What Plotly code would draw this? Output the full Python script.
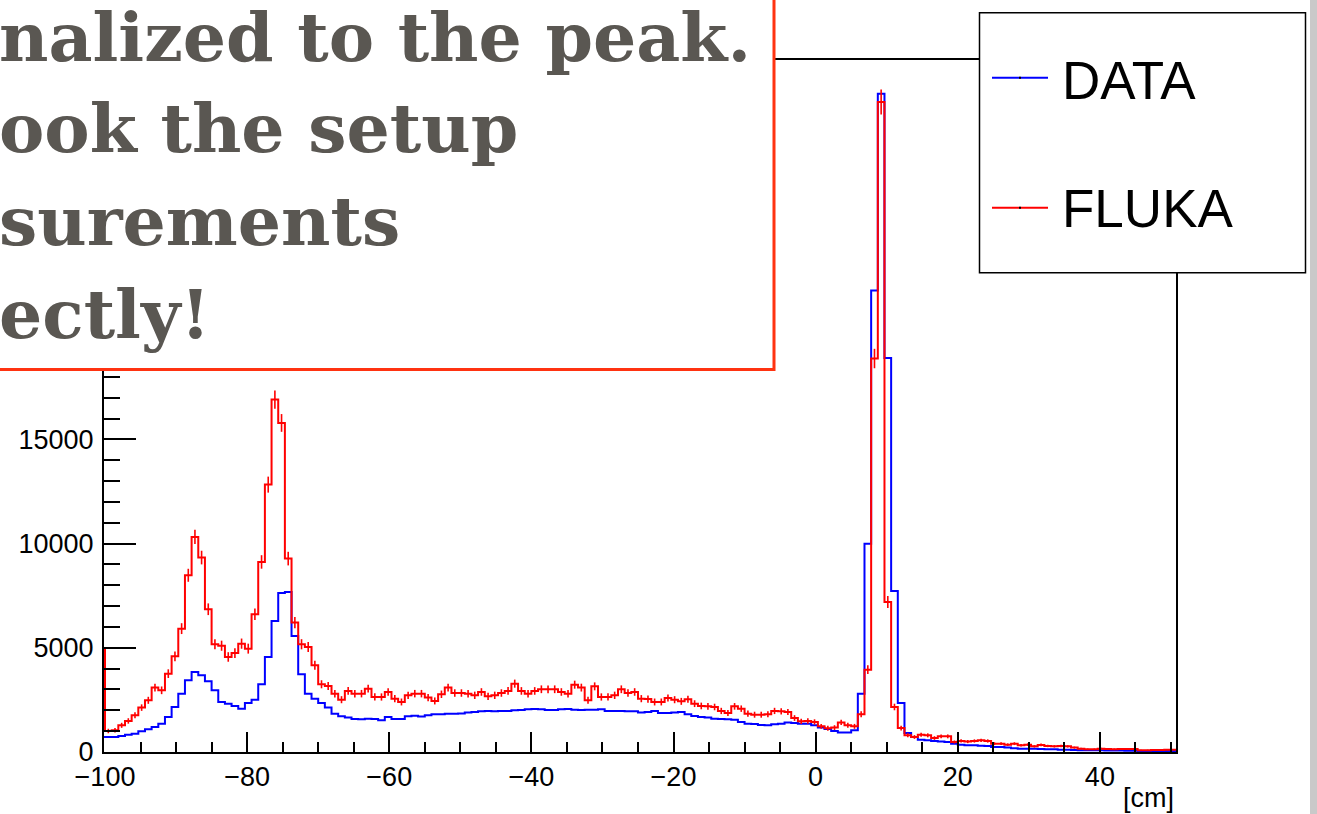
import numpy as np
import plotly.graph_objects as go

# ---------------- data ----------------
X_MIN, X_MAX, N_BINS = -100.0, 50.0, 160   # histogram binning [cm]
FLUKA_ERR_SCALE = 11.5                      # weight used for FLUKA error bars

DATA = [720, 720, 770, 830, 880, 990, 1090, 1200, 1360, 1680, 2160, 2800, 3440, 3840, 3680,
        3390, 2960, 2400, 2320, 2210, 2080, 2350, 2510, 3250, 4560, 6290, 7630, 7680, 5570,
        3730, 2800, 2560, 2350, 2130, 1840,
        1710, 1650, 1580, 1570, 1600, 1580, 1520, 1680, 1580, 1580, 1710, 1740, 1700, 1760,
        1810, 1810, 1840, 1840, 1850, 1890, 1920, 1950, 1970, 1950, 1970, 1970, 2000, 2010,
        2050, 2060, 2050, 2010, 2010, 2050, 2060, 2030, 2010, 2030, 2030, 2050, 1970, 1970,
        1970, 1950, 1950, 1900, 1920, 1970, 1870, 1870, 1890, 1920, 1810, 1730, 1680, 1650,
        1600, 1580, 1570, 1550, 1440, 1360, 1340, 1300, 1280, 1330, 1360, 1420, 1390, 1360,
        1360, 1280, 1170, 1100, 1010, 940,
        930, 1040, 2800, 9990, 22150, 31590, 18900, 7720, 2350, 910, 720, 590, 560, 530, 500,
        480, 400, 350, 320, 320, 300, 290, 240, 240, 220, 180, 160, 160, 160, 140, 130, 130,
        110, 110, 100, 80, 80, 80, 80, 70, 70, 70, 65, 65, 50, 50, 50, 50, 50]

FLUKA = [1008, 1040, 1280, 1490, 1760, 2130, 2480, 3090, 2960, 3760, 4590, 5920, 8480, 10320,
         9330, 6850, 5170, 5100, 4560, 4750, 5200, 4960, 6610, 9120, 12830, 16910, 15790, 9280,
         6210, 5170, 5040, 4160, 3250, 3170, 2800,
         2510, 2930, 2800, 2800, 3040, 2640, 2640, 2880, 2560, 2400, 2720, 2800, 2800, 2610,
         2450, 2770, 3090, 2830, 2830, 2800, 2720, 2880, 2670, 2720, 2830, 2930, 3280, 2930,
         2800, 2930, 3010, 3010, 3010, 2880, 2800, 3230, 3090, 2480, 3150, 2640, 2640, 2720,
         3010, 2830, 2880, 2560, 2540, 2400, 2400, 2590, 2510, 2430, 2530, 2320, 2210, 2190,
         2160, 1970, 1870, 2190, 2080, 1840, 1790, 1790, 1810, 1970, 1950, 1920, 1630, 1470,
         1490, 1440, 1230, 1140, 1170, 1420,
         1280, 1230, 1810, 3950, 18880, 31190, 7200, 2160, 1150, 800, 720, 830, 800, 670, 750,
         750, 480, 530, 500, 530, 560, 530, 400, 400, 350, 400, 320, 350, 270, 340, 290, 270,
         290, 270, 210, 160, 130, 130, 160, 140, 130, 140, 140, 140, 80, 80, 100, 100, 110]

# contents of the bins just outside the drawn range (underflow / overflow)
DATA_UNDER, DATA_OVER = 720, 50
FLUKA_UNDER, FLUKA_OVER = 4980, 110

SERIES_NAMES = ["DATA", "FLUKA"]
X_TICKS = [-100, -80, -60, -40, -20, 0, 20, 40]
Y_TICKS = [0, 5000, 10000, 15000]          # higher labels are hidden by the note box
NOTE_LINES = ["nalized to the peak.", "ook the setup", "surements", "ectly!"]
X_UNIT = "[cm]"

# ---------------- geometry ----------------
W, H = 1317, 814
PL, PR, PT, PB = 104, 1176, 60, 752


def px(x):
    return (x - PL) / (PR - PL)


def py(y):
    return (PB - y) / (PB - PT)


bw = (X_MAX - X_MIN) / N_BINS
edges = np.linspace(X_MIN, X_MAX, N_BINS + 1)
ext_edges = np.concatenate([[X_MIN - bw], edges, [X_MAX + bw]])
centers = 0.5 * (edges[:-1] + edges[1:])


def step_xy(vals, under, over):
    v = [under] + list(vals) + [over]
    return list(ext_edges), v + [v[-1]]


fig = go.Figure()

dx, dy = step_xy(DATA, DATA_UNDER, DATA_OVER)
fig.add_trace(go.Scatter(x=dx, y=dy, mode="lines", line=dict(color="#0000ff", width=2, shape="hv"),
                         name=SERIES_NAMES[0], showlegend=False, hoverinfo="skip"))
fx, fy = step_xy(FLUKA, FLUKA_UNDER, FLUKA_OVER)
fig.add_trace(go.Scatter(x=fx, y=fy, mode="lines", line=dict(color="#ff0000", width=2, shape="hv"),
                         name=SERIES_NAMES[1], showlegend=False, hoverinfo="skip"))
ferr = np.sqrt(np.array(FLUKA, dtype=float) * FLUKA_ERR_SCALE)
fig.add_trace(go.Scatter(x=centers, y=FLUKA, mode="markers",
                         marker=dict(size=1, color="#ff0000", opacity=0),
                         error_y=dict(type="data", array=ferr, visible=True, width=0,
                                      thickness=1.6, color="#ff0000"),
                         showlegend=False, hoverinfo="skip"))

# x range so that -100 sits 1px right of the frame and 10 cm at 886.7 px
px_per_cm = (886.7 - 105.0) / 110.0
x0 = -100 - (105 - PL) / px_per_cm
x1 = x0 + (PR - PL) / px_per_cm
y1 = (PB - PT) / (104.2 / 5000.0)

tickfont = dict(family="Liberation Sans, Arial, sans-serif", size=27, color="black")

fig.update_xaxes(range=[x0, x1], tickmode="array", tickvals=X_TICKS,
                 ticks="inside", ticklen=20, tickwidth=1.5, tickcolor="black",
                 minor=dict(dtick=5, tick0=0, ticks="inside", ticklen=10, tickwidth=1.5, tickcolor="black"),
                 showline=True, linewidth=2, linecolor="black", mirror=True,
                 showgrid=False, zeroline=False, tickfont=tickfont)
fig.update_yaxes(range=[0, y1], tickmode="array", tickvals=Y_TICKS, tickformat="d",
                 ticks="inside", ticklen=32, tickwidth=1.5, tickcolor="black",
                 minor=dict(dtick=1000, tick0=0, ticks="inside", ticklen=16, tickwidth=1.5, tickcolor="black"),
                 showline=True, linewidth=2, linecolor="black", mirror=True,
                 showgrid=False, zeroline=False, tickfont=tickfont, ticklabelstandoff=3)

shapes = []
# legend box
shapes.append(dict(type="rect", xref="paper", yref="paper", x0=px(979.5), x1=px(1305.5),
                   y0=py(272.7), y1=py(12.7), fillcolor="white",
                   line=dict(color="black", width=1.5), layer="above"))
leg_y = [77.7, 207.7]
leg_col = ["#0000ff", "#ff0000"]
for yy, cc in zip(leg_y, leg_col):
    shapes.append(dict(type="line", xref="paper", yref="paper", x0=px(992), x1=px(1048),
                       y0=py(yy), y1=py(yy), line=dict(color=cc, width=2), layer="above"))
    shapes.append(dict(type="line", xref="paper", yref="paper", x0=px(1019), x1=px(1021),
                       y0=py(yy), y1=py(yy), line=dict(color="black", width=2), layer="above"))
# overlay note box
shapes.append(dict(type="rect", xref="paper", yref="paper", x0=px(-30), x1=px(774),
                   y0=py(369.5), y1=py(-30), fillcolor="white",
                   line=dict(color="#ff3311", width=3), layer="above"))
# grey page edge on the right
shapes.append(dict(type="rect", xref="paper", yref="paper", x0=px(1310), x1=px(1320),
                   y0=py(H + 5), y1=py(-5), fillcolor="#c9c9c9",
                   line=dict(width=0), layer="above"))

annotations = []
NOTE_SIZE = 68
note_font = dict(family="DejaVu Serif", size=NOTE_SIZE, color="#5a5752", weight="bold")
baselines = [61, 152, 245, 338]
for txt, b in zip(NOTE_LINES, baselines):
    annotations.append(dict(text=txt, xref="paper", yref="paper", x=px(-3), y=py(b - 0.346 * NOTE_SIZE),
                            xanchor="left", yanchor="middle", showarrow=False, font=note_font))
leg_font = dict(family="Liberation Sans, Arial, sans-serif", size=53, color="black")
for name, b in zip(SERIES_NAMES, [99, 227]):
    annotations.append(dict(text=name, xref="paper", yref="paper", x=px(1060), y=py(b - 0.3465 * 53),
                            xanchor="left", yanchor="middle", showarrow=False, font=leg_font))
annotations.append(dict(text=X_UNIT, xref="paper", yref="paper", x=px(1176), y=py(807 - 0.3465 * 27),
                        xanchor="right", yanchor="middle", showarrow=False,
                        font=dict(family="Liberation Sans, Arial, sans-serif", size=27, color="black")))

fig.update_layout(width=W, height=H, margin=dict(l=PL, r=W - PR, t=PT, b=H - PB, pad=0),
                  paper_bgcolor="white", plot_bgcolor="white", showlegend=False,
                  shapes=shapes, annotations=annotations)

fig.write_html("out.html")
